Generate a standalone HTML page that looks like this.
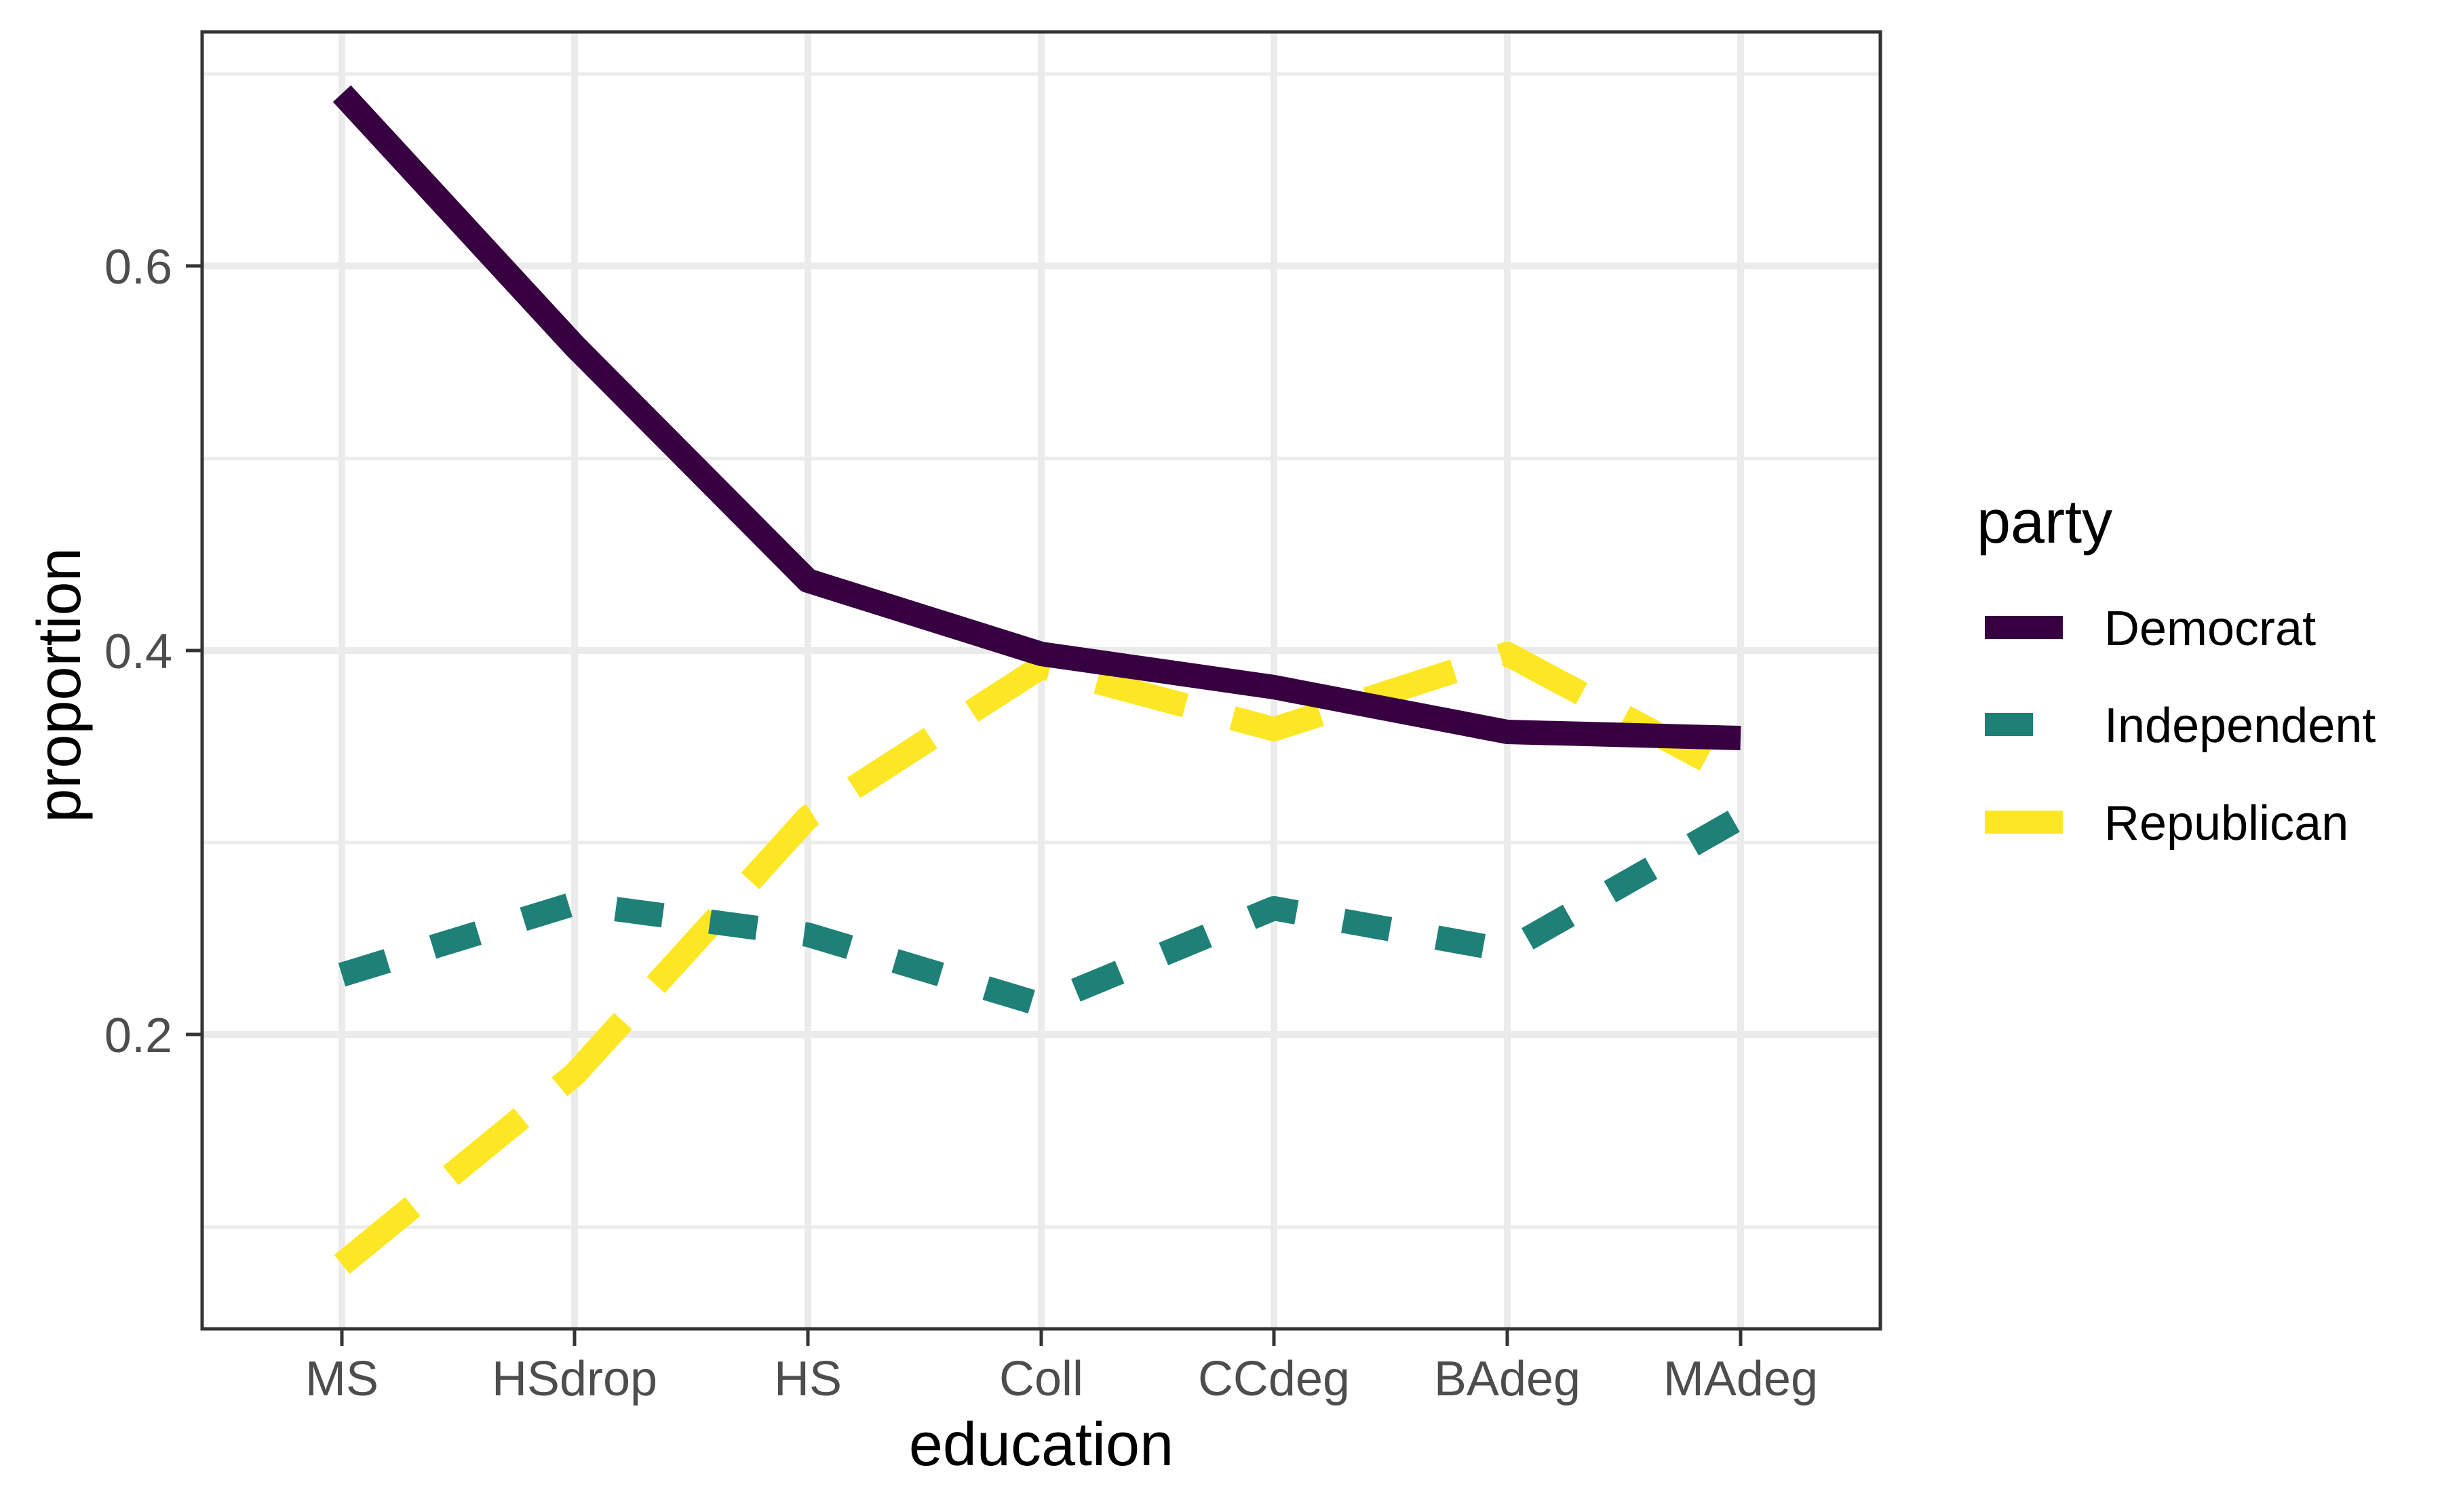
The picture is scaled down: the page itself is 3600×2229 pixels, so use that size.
<!DOCTYPE html>
<html><head><meta charset="utf-8"><style>html,body{margin:0;padding:0;background:#fff}</style></head>
<body>
<svg xmlns="http://www.w3.org/2000/svg" width="3600" height="2224" viewBox="0 0 3600 2224" font-family="Liberation Sans, Arial, sans-serif">
<rect width="3600" height="2224" fill="#fff"/>
<g stroke="#EBEBEB" stroke-width="5">
<line x1="298" x2="2772" y1="109" y2="109"/>
<line x1="298" x2="2772" y1="676" y2="676"/>
<line x1="298" x2="2772" y1="1242" y2="1242"/>
<line x1="298" x2="2772" y1="1809" y2="1809"/>
</g>
<g stroke="#EBEBEB" stroke-width="10">
<line x1="298" x2="2772" y1="392" y2="392"/>
<line x1="298" x2="2772" y1="959" y2="959"/>
<line x1="298" x2="2772" y1="1525" y2="1525"/>
<line x1="504" x2="504" y1="47" y2="1959"/>
<line x1="847" x2="847" y1="47" y2="1959"/>
<line x1="1191" x2="1191" y1="47" y2="1959"/>
<line x1="1535" x2="1535" y1="47" y2="1959"/>
<line x1="1878" x2="1878" y1="47" y2="1959"/>
<line x1="2222" x2="2222" y1="47" y2="1959"/>
<line x1="2566" x2="2566" y1="47" y2="1959"/>
</g>
<g fill="none" stroke-width="36" stroke-linejoin="round">
<polyline stroke="#FDE725" stroke-dasharray="135 72" points="504,1864 847,1584 1191,1205 1535,983 1878,1075 2222,964 2566,1148"/>
<polyline stroke="#1F8077" stroke-dasharray="70 70" points="504,1437 847,1332 1191,1378 1535,1481 1878,1339 2222,1401 2566,1205"/>
<polyline stroke="#370040" points="504,138 847,510 1191,856 1535,964 1878,1013 2222,1079 2566,1088"/>
</g>
<rect x="298" y="47" width="2474" height="1912" fill="none" stroke="#333" stroke-width="5"/>
<g stroke="#333" stroke-width="5">
<line x1="274" x2="298" y1="392" y2="392"/>
<line x1="274" x2="298" y1="959" y2="959"/>
<line x1="274" x2="298" y1="1525" y2="1525"/>
<line x1="504" x2="504" y1="1959" y2="1984"/>
<line x1="847" x2="847" y1="1959" y2="1984"/>
<line x1="1191" x2="1191" y1="1959" y2="1984"/>
<line x1="1535" x2="1535" y1="1959" y2="1984"/>
<line x1="1878" x2="1878" y1="1959" y2="1984"/>
<line x1="2222" x2="2222" y1="1959" y2="1984"/>
<line x1="2566" x2="2566" y1="1959" y2="1984"/>
</g>
<g fill="#4D4D4D" font-size="72" text-anchor="end">
<text x="254" y="418">0.6</text>
<text x="254" y="985">0.4</text>
<text x="254" y="1551">0.2</text>
</g>
<g fill="#4D4D4D" font-size="72" text-anchor="middle">
<text x="504" y="2057">MS</text>
<text x="847" y="2057">HSdrop</text>
<text x="1191" y="2057">HS</text>
<text x="1535" y="2057">Coll</text>
<text x="1878" y="2057">CCdeg</text>
<text x="2222" y="2057">BAdeg</text>
<text x="2566" y="2057">MAdeg</text>
</g>
<text x="1535" y="2160" font-size="90" text-anchor="middle" fill="#000">education</text>
<text transform="translate(118,1010) rotate(-90)" font-size="90" text-anchor="middle" fill="#000">proportion</text>
<text x="2914" y="800" font-size="90" fill="#000">party</text>
<rect x="2926" y="908" width="115" height="34" fill="#370040"/>
<rect x="2926" y="1051" width="71" height="34" fill="#1F8077"/>
<rect x="2926" y="1195" width="115" height="34" fill="#FDE725"/>
<g font-size="72" fill="#000">
<text x="3102" y="951">Democrat</text>
<text x="3102" y="1094">Independent</text>
<text x="3102" y="1238">Republican</text>
</g>
</svg>
</body></html>
